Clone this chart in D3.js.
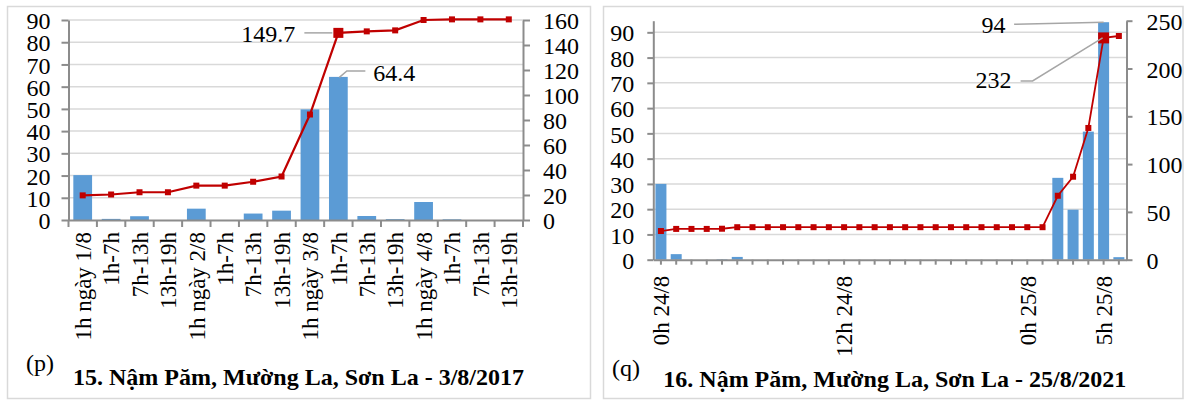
<!DOCTYPE html>
<html>
<head>
<meta charset="utf-8">
<script src="https://cdn.jsdelivr.net/npm/d3@7"></script>
<style>
  body { margin: 0; background: #fff; }
</style>
</head>
<body>
<svg id="chart" width="1186" height="401"></svg>
<script>
// (p) Nậm Păm 3/8/2017 : 6-hour rain (bars) and accumulated rain (line)
const catsP = ["1h ngày 1/8", "1h-7h", "7h-13h", "13h-19h",
               "1h ngày 2/8", "1h-7h", "7h-13h", "13h-19h",
               "1h ngày 3/8", "1h-7h", "7h-13h", "13h-19h",
               "1h ngày 4/8", "1h-7h", "7h-13h", "13h-19h"];
const rainP = [20.2, 0.5, 1.7, 0, 5.1, 0, 2.9, 4.2, 49.8, 64.4, 1.8, 0.4, 8.1, 0.3, 0, 0];
const cumP  = [19.7, 20.4, 22.2, 22.2, 27.5, 27.5, 30.6, 34.8, 84.4, 149.7, 150.9, 151.7, 160, 160.5, 160.5, 160.5];
const leftTicksP  = [0, 10, 20, 30, 40, 50, 60, 70, 80, 90];
const rightTicksP = [0, 20, 40, 60, 80, 100, 120, 140, 160];

// (q) Nậm Păm 25/8/2021 : hourly rain (bars) and accumulated rain (line)
const catsQ = ["0h 24/8", "1h 24/8", "2h 24/8", "3h 24/8", "4h 24/8", "5h 24/8", "6h 24/8", "7h 24/8",
               "8h 24/8", "9h 24/8", "10h 24/8", "11h 24/8", "12h 24/8", "13h 24/8", "14h 24/8", "15h 24/8",
               "16h 24/8", "17h 24/8", "18h 24/8", "19h 24/8", "20h 24/8", "21h 24/8", "22h 24/8", "23h 24/8",
               "0h 25/8", "1h 25/8", "2h 25/8", "3h 25/8", "4h 25/8", "5h 25/8", "6h 25/8"];
const shownQ = ["0h 24/8", "12h 24/8", "0h 25/8", "5h 25/8"];
const rainQ = [30, 2.2, 0, 0, 0.2, 1.1, 0, 0, 0, 0, 0, 0, 0, 0, 0, 0,
               0, 0, 0, 0, 0, 0, 0, 0, 0, 0, 32.4, 19.8, 50.7, 94, 1.0];
const cumQ  = [30, 32.2, 32.2, 32.2, 32.4, 34, 34, 34, 34, 34, 34, 34, 34, 34, 34, 34,
               34, 34, 34, 34, 34, 34, 34, 34, 34, 34, 66.9, 86.8, 137.8, 232, 234];
const leftTicksQ  = [0, 10, 20, 30, 40, 50, 60, 70, 80, 90];
const rightTicksQ = [0, 50, 100, 150, 200, 250];

const BAR = "#5B9BD5", LINE = "#C00000", GRID = "#D9D9D9", AXIS = "#8C8C8C", LEAD = "#A6A6A6";
const FONT = "'Liberation Serif', 'Times New Roman', serif";
const FS = 24, XFS = 23;

const svg = d3.select("#chart");

function drawPanel(o) {
  const g = svg.append("g");

  g.append("rect")
    .attr("x", o.box[0]).attr("y", o.box[1]).attr("width", o.box[2]).attr("height", o.box[3])
    .attr("fill", "#fff").attr("stroke", GRID).attr("stroke-width", 1.5);

  const x = d3.scaleBand().domain(d3.range(o.cats.length))
    .range([o.x0, o.x1]).paddingInner(o.pad).paddingOuter(o.pad / 2);
  const yL = d3.scaleLinear().domain([0, o.maxL]).range([o.y0, o.y1]);
  const yR = d3.scaleLinear().domain([0, o.maxR]).range([o.y0, o.y1]);
  const cx = i => x(i) + x.bandwidth() / 2;

  // gridlines
  g.selectAll(".grid").data(o.ticksL.filter(d => d > 0)).join("line")
    .attr("x1", o.x0).attr("x2", o.x1)
    .attr("y1", d => yL(d)).attr("y2", d => yL(d))
    .attr("stroke", GRID).attr("stroke-width", 1.5);

  // bars
  g.selectAll(".bar").data(o.rain).join("rect")
    .attr("x", (d, i) => x(i)).attr("width", x.bandwidth())
    .attr("y", d => yL(d)).attr("height", d => o.y0 - yL(d))
    .attr("fill", BAR);

  // y axes
  const axL = g.append("g").attr("transform", `translate(${o.x0},0)`)
    .call(d3.axisLeft(yL).tickValues(o.ticksL).tickSize(o.tick).tickSizeOuter(0).tickPadding(o.padL));
  const axR = g.append("g").attr("transform", `translate(${o.x1},0)`)
    .call(d3.axisRight(yR).tickValues(o.ticksR).tickSize(o.tick).tickSizeOuter(0).tickPadding(o.padR));

  // x axis (labels through the band scale)
  const axX = g.append("g").attr("transform", `translate(0,${o.y0})`)
    .call(d3.axisBottom(x).tickSize(o.ticksAtCenter ? o.tick - 1 : 0).tickSizeOuter(0)
      .tickFormat(i => o.labelFn(i)));
  axX.selectAll("text")
    .attr("transform", "rotate(-90)")
    .attr("x", -o.xLabelGap).attr("y", 0).attr("dy", "0.36em")
    .attr("text-anchor", "end");
  if (!o.ticksAtCenter) {
    g.selectAll(".xt").data(d3.range(o.cats.length + 1)).join("line")
      .attr("x1", i => o.x0 + i * x.step()).attr("x2", i => o.x0 + i * x.step())
      .attr("y1", o.y0).attr("y2", o.y0 + o.tick)
      .attr("stroke", AXIS).attr("stroke-width", 2);
  }

  [axL, axR, axX].forEach(a => {
    a.attr("font-family", FONT).attr("font-size", FS);
    a.selectAll("path, line").attr("stroke", AXIS).attr("stroke-width", 2);
    a.selectAll("text").attr("fill", "#000");
  });
  axX.attr("font-size", XFS);
  axL.selectAll("text").attr("dy", "0.36em");
  axR.selectAll("text").attr("dy", "0.36em");

  // accumulated rain line
  g.append("path").datum(o.cum)
    .attr("fill", "none").attr("stroke", LINE).attr("stroke-width", o.lw)
    .attr("d", d3.line().x((d, i) => cx(i)).y(d => yR(d)));
  g.selectAll(".mk").data(o.cum).join("rect")
    .attr("x", (d, i) => cx(i) - 3).attr("y", d => yR(d) - 3)
    .attr("width", 6).attr("height", 6).attr("fill", LINE);

  // highlighted cumulative point + label
  const pi = o.cumLabel.i, px = cx(pi), py = yR(o.cum[pi]);
  const ms = o.bigMarker;
  g.append("rect").attr("x", px - ms / 2).attr("y", py - ms / 2)
    .attr("width", ms).attr("height", ms).attr("fill", LINE);
  g.append("polyline").attr("fill", "none").attr("stroke", LEAD).attr("stroke-width", 1.5)
    .attr("points", o.cumLabel.lead.map(p => [px + p[0], py + p[1]].join(",")).join(" "));
  g.append("text").attr("x", px + o.cumLabel.tx).attr("y", py + o.cumLabel.ty)
    .attr("text-anchor", o.cumLabel.anchor).attr("font-size", FS).text(o.cumLabel.text);

  // highlighted bar label
  const bi = o.barLabel.i, bx = cx(bi), by = yL(o.rain[bi]);
  g.append("polyline").attr("fill", "none").attr("stroke", LEAD).attr("stroke-width", 1.5)
    .attr("points", o.barLabel.lead.map(p => [bx + p[0], by + p[1]].join(",")).join(" "));
  g.append("text").attr("x", bx + o.barLabel.tx).attr("y", by + o.barLabel.ty)
    .attr("text-anchor", o.barLabel.anchor).attr("font-size", FS).text(o.barLabel.text);

  // panel captions
  g.append("text").attr("x", o.tag[0]).attr("y", o.tag[1]).attr("font-size", FS).text(o.tagText);
  g.append("text").attr("x", o.title[0]).attr("y", o.title[1])
    .attr("font-size", 24).attr("font-weight", "bold").text(o.titleText);
}

drawPanel({
  box: [7.5, 6.5, 583, 392],
  x0: 68.5, x1: 523, y0: 220, y1: 20, pad: 0.34,
  cats: catsP, rain: rainP, cum: cumP,
  maxL: 90, maxR: 160, ticksL: leftTicksP, ticksR: rightTicksP,
  tick: 7, padL: 11, padR: 13, lw: 2.2, bigMarker: 10,
  ticksAtCenter: false, xLabelGap: 12,
  labelFn: i => catsP[i],
  cumLabel: { i: 9, text: "149.7", anchor: "end", tx: -43, ty: 9, lead: [[-34, 0], [-6, 0]] },
  barLabel: { i: 9, text: "64.4", anchor: "start", tx: 35, ty: 4, lead: [[1, 0.5], [8.5, -6], [27, -6]] },
  tag: [26, 371], tagText: "(p)",
  title: [73, 385], titleText: "15. Nậm Păm, Mường La, Sơn La - 3/8/2017"
});

drawPanel({
  box: [603.5, 6.5, 579.5, 392],
  x0: 653.3, x1: 1126.5, y0: 259.7, y1: 20.7, pad: 0.28,
  cats: catsQ, rain: rainQ, cum: cumQ,
  maxL: 94.6, maxR: 250, ticksL: leftTicksQ, ticksR: rightTicksQ,
  tick: 6, padL: 13, padR: 14, lw: 1.8, bigMarker: 11,
  ticksAtCenter: true, xLabelGap: 16,
  labelFn: i => shownQ.includes(catsQ[i]) ? catsQ[i] : "",
  cumLabel: { i: 29, text: "232", anchor: "end", tx: -92, ty: 50.4, lead: [[-83, 43], [-71, 43], [-1, 0]] },
  barLabel: { i: 29, text: "94", anchor: "end", tx: -98, ty: 11, lead: [[-89.5, 2], [0, 0]] },
  tag: [612, 376], tagText: "(q)",
  title: [663.3, 386.7], titleText: "16. Nậm Păm, Mường La, Sơn La - 25/8/2021"
});

// one serif face for every text
svg.selectAll("text").attr("font-family", FONT).attr("fill", "#000");
</script>
</body>
</html>
